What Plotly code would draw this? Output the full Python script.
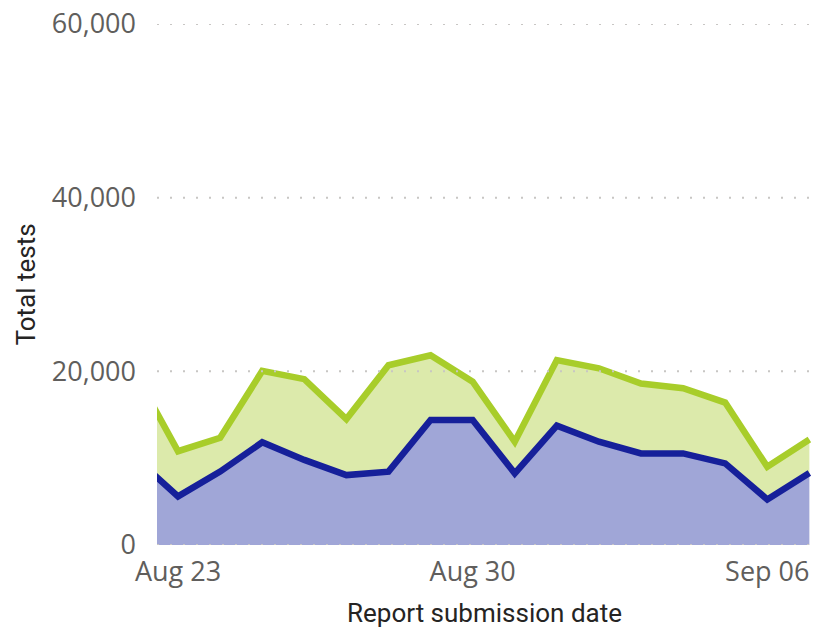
import plotly.graph_objects as go

dates = ["2020-08-22", "2020-08-23", "2020-08-24", "2020-08-25", "2020-08-26", "2020-08-27",
         "2020-08-28", "2020-08-29", "2020-08-30", "2020-08-31", "2020-09-01", "2020-09-02",
         "2020-09-03", "2020-09-04", "2020-09-05", "2020-09-06", "2020-09-07"]
total_tests = [19600, 10800, 12350, 20050, 19100, 14500, 20700, 21850, 18800, 11900,
               21300, 20350, 18600, 18050, 16400, 9000, 12150]
part_tests = [10000, 5600, 8450, 11830, 9800, 8050, 8450, 14400, 14400, 8250,
              13750, 11900, 10550, 10550, 9400, 5250, 8300]
x_tick_vals = ["2020-08-23", "2020-08-30", "2020-09-06"]
x_tick_text = ["Aug 23", "Aug 30", "Sep 06"]
y_tick_vals = [0, 20000, 40000, 60000]
y_tick_text = ["0", "20,000", "40,000", "60,000"]

fig = go.Figure()
fig.add_trace(go.Scatter(
    x=dates, y=part_tests, mode="lines",
    line=dict(color="#16209A", width=6.5),
    fill="tozeroy", fillcolor="#A0A6D7", showlegend=False))
fig.add_trace(go.Scatter(
    x=dates, y=total_tests, mode="lines",
    line=dict(color="#A8CD2A", width=6.5),
    fill="tonexty", fillcolor="#DCEAAB", showlegend=False))

# dotted gridlines drawn above the filled areas
for v in y_tick_vals:
    fig.add_shape(type="line", xref="paper", x0=0, x1=1, yref="y", y0=v, y1=v,
                  line=dict(color="#C8C6C4", width=2, dash="2px,11px"), layer="above")

fig.update_layout(
    width=820, height=628,
    margin=dict(l=157, r=8, t=24, b=83),
    paper_bgcolor="white", plot_bgcolor="white",
    font=dict(family="Open Sans", color="#605E5C"),
    xaxis=dict(
        range=["2020-08-22 12:00", "2020-09-07 01:30"],
        tickvals=x_tick_vals, ticktext=x_tick_text,
        tickfont=dict(size=27, color="#605E5C", family="Open Sans"),
        showgrid=False, zeroline=False, showline=False, automargin=False,
        ticks="", ticklabelstandoff=8, ticklabeloverflow="allow",
        title=dict(text="Report submission date",
                   font=dict(size=26, color="#252423", family="Roboto"),
                   standoff=16),
    ),
    yaxis=dict(
        range=[0, 60000],
        tickvals=y_tick_vals, ticktext=y_tick_text,
        tickfont=dict(size=27, color="#605E5C", family="Open Sans"),
        showgrid=False, zeroline=False, showline=False, ticks="", ticklabelstandoff=20,
        automargin=False, ticklabeloverflow="allow",
        title=dict(text="Total tests",
                   font=dict(size=26, color="#252423", family="Roboto"),
                   standoff=8),
    ),
)

fig.write_html("out.html", config={"displayModeBar": False},
               post_script="document.body.style.margin='0';document.body.style.overflow='hidden';")
